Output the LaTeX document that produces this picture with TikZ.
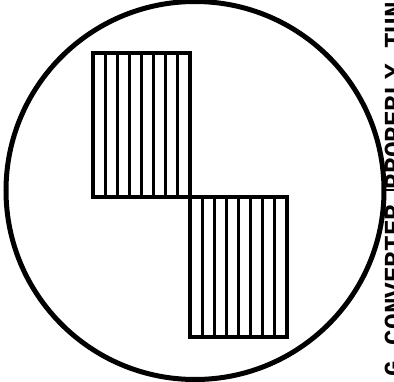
\documentclass[tikz,border=0pt]{standalone}
\usepackage{fontspec}
\newfontfamily\typefont{Liberation Mono}
\begin{document}
\begin{tikzpicture}[x=1pt,y=1pt]
\tikzstyle{rim}=[line width=5pt]
\tikzstyle{outline}=[line width=4pt,line join=miter]
\tikzstyle{hatch}=[line width=2.8pt]
\useasboundingbox (0,0) rectangle (394,381);
\clip (0,0) rectangle (394,381);
\draw[rim] (195,190.5) circle (189);
% square wave, upper half then lower half
\draw[outline] (93,184) rectangle (190,328);
\draw[outline] (190,44) rectangle (287,184);
\foreach \i in {1,...,7}{
  \draw[hatch] (93+12.125*\i,184) -- (93+12.125*\i,328);
  \draw[hatch] (190+12.125*\i,44) -- (190+12.125*\i,184);
}
\coordinate (rimpt) at (384,191);
\coordinate (tickend) at (394,191);
\draw[line width=2.4pt] (rimpt) -- (tickend);
\node[rotate=90,anchor=north,inner sep=0pt] (caption) at (384.5,192)
  {\typefont\bfseries\fontsize{26}{26}\selectfont G CONVERTER PROPERLY TUN};
\end{tikzpicture}
\end{document}
